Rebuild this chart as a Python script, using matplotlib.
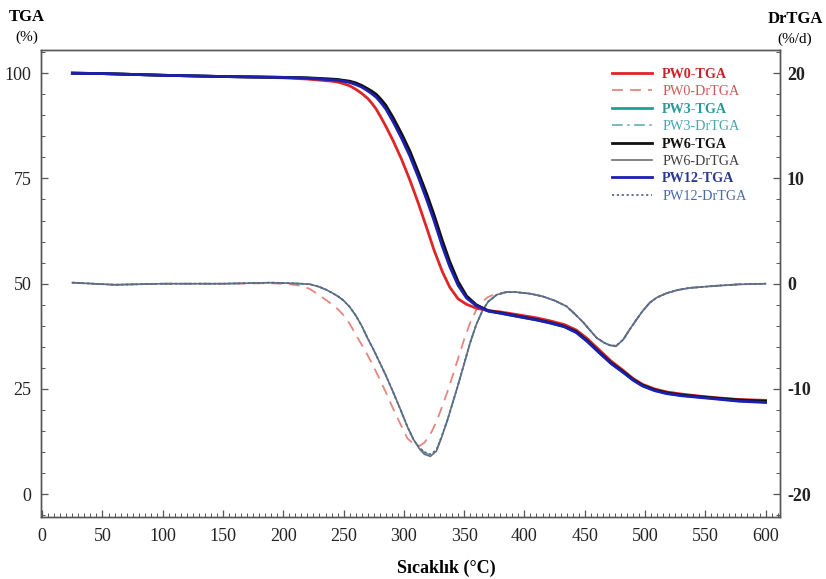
import numpy as np
import matplotlib
matplotlib.use("Agg")
import matplotlib.pyplot as plt
from matplotlib.ticker import MultipleLocator

plt.rcParams['font.family'] = ['Liberation Serif', 'DejaVu Serif']
plt.rcParams['axes.unicode_minus'] = False

# ---------------- data ----------------
T_tga = [25, 50, 100, 150, 200, 220, 240, 245, 250, 255, 260, 265, 270, 273, 277, 281, 285,
         291, 298, 305, 312, 319, 325, 332, 338, 345, 352, 360, 370, 380, 393, 410, 421, 433,
         443, 452, 462, 472, 482, 490, 498, 508, 518, 530, 545, 560, 578, 600]

tga_pw0 = [100, 99.9, 99.5, 99.2, 98.9, 98.6, 98.1, 97.9, 97.5, 97.0, 96.2, 95.2, 94.0, 93.0,
           91.5, 89.5, 87.4, 84.0, 79.6, 74.6, 69.1, 63.2, 58.0, 52.8, 49.2, 46.4, 45.1, 44.2,
           43.6, 43.3, 42.7, 41.9, 41.2, 40.3, 39.0, 37.0, 34.3, 31.6, 29.4, 27.5, 26.1, 25.0,
           24.3, 23.8, 23.3, 22.9, 22.5, 22.3]
tga_pw3 = [100, 99.9, 99.5, 99.2, 99.0, 98.8, 98.5, 98.4, 98.2, 97.9, 97.5, 96.9, 96.1, 95.5,
           94.7, 93.4, 92.0, 89.0, 85.1, 80.8, 75.9, 70.6, 65.7, 59.5, 54.7, 50.0, 46.8, 44.9,
           43.5, 43.0, 42.3, 41.4, 40.7, 39.8, 38.5, 36.4, 33.7, 31.1, 29.0, 27.2, 25.8, 24.7,
           24.0, 23.5, 23.1, 22.7, 22.2, 21.9]
tga_pw6 = [100, 99.9, 99.5, 99.2, 99.0, 98.9, 98.6, 98.5, 98.3, 98.1, 97.7, 97.1, 96.3, 95.8,
           95.0, 93.8, 92.4, 89.5, 85.7, 81.5, 76.5, 71.3, 66.4, 60.2, 55.3, 50.5, 47.1, 45.0,
           43.6, 43.1, 42.4, 41.5, 40.8, 39.9, 38.6, 36.5, 33.8, 31.2, 29.1, 27.3, 25.9, 24.8,
           24.1, 23.6, 23.2, 22.8, 22.4, 22.1]
tga_pw12 = [100, 99.9, 99.5, 99.2, 99.0, 98.8, 98.4, 98.3, 98.1, 97.8, 97.3, 96.7, 95.8, 95.2,
            94.3, 93.0, 91.5, 88.5, 84.6, 80.3, 75.3, 69.9, 65.0, 58.8, 54.1, 49.6, 46.6, 44.8,
            43.5, 43.0, 42.3, 41.4, 40.7, 39.8, 38.4, 36.3, 33.6, 31.0, 28.9, 27.1, 25.7, 24.6,
            23.9, 23.4, 23.0, 22.6, 22.1, 21.8]

T_dtg = [25, 60, 100, 150, 190, 205, 215, 222, 230, 236, 241, 246, 250, 255, 260, 265, 270,
         275, 280, 285, 290, 297, 303, 308, 313, 317, 322, 327, 331, 336, 340, 345, 350, 355,
         360, 365, 370, 377, 385, 393, 405, 415, 425, 435, 442, 449, 455, 460, 466, 471, 476,
         482, 487, 493, 498, 504, 510, 518, 527, 537, 548, 559, 578, 600]

dtg_pw0 = [0.1, -0.1, 0.0, 0.0, 0.05, -0.05, -0.2, -0.5, -1.1, -1.6,
           -2.0, -2.5, -3.0, -3.8, -4.8, -5.8, -6.8, -7.9, -9.1, -10.3,
           -11.6, -13.3, -14.7, -15.2, -15.4, -15.1, -14.3, -13.1, -11.9, -10.3,
           -8.9, -7.1, -5.3, -3.7, -2.5, -1.7, -1.25, -0.95, -0.8, -0.8,
           -0.95, -1.2, -1.6, -2.15, -2.9, -3.7, -4.5, -5.15, -5.6, -5.85,
           -5.9, -5.3, -4.4, -3.4, -2.6, -1.8, -1.3, -0.9, -0.6, -0.4,
           -0.3, -0.2, -0.06, 0.0]
dtg_pw3 = [0.1, -0.1, 0.0, 0.0, 0.1, 0.05, 0.0, -0.05, -0.3, -0.6,
           -0.9, -1.25, -1.6, -2.2, -3.0, -4.0, -5.2, -6.3, -7.5, -8.7,
           -10.0, -11.9, -13.6, -14.8, -15.6, -16.0, -16.3, -15.8, -14.6, -13.0,
           -11.5, -9.6, -7.6, -5.6, -3.9, -2.6, -1.7, -1.05, -0.8, -0.8,
           -0.95, -1.2, -1.6, -2.15, -2.9, -3.7, -4.5, -5.15, -5.6, -5.85,
           -5.9, -5.3, -4.4, -3.4, -2.6, -1.8, -1.3, -0.9, -0.6, -0.4,
           -0.3, -0.2, -0.06, 0.0]
dtg_pw6 = [0.1, -0.1, 0.0, 0.0, 0.1, 0.05, 0.0, -0.05, -0.3, -0.6,
           -0.9, -1.25, -1.6, -2.2, -3.0, -4.0, -5.2, -6.3, -7.5, -8.7,
           -10.0, -11.9, -13.6, -14.8, -15.7, -16.2, -16.4, -15.9, -14.7, -13.0,
           -11.5, -9.6, -7.6, -5.6, -3.9, -2.6, -1.7, -1.05, -0.8, -0.8,
           -0.95, -1.2, -1.6, -2.15, -2.9, -3.7, -4.5, -5.15, -5.6, -5.85,
           -5.95, -5.3, -4.4, -3.4, -2.6, -1.8, -1.3, -0.9, -0.6, -0.4,
           -0.3, -0.2, -0.06, 0.0]
dtg_pw12 = [0.1, -0.1, 0.0, 0.0, 0.1, 0.05, 0.0, -0.05, -0.3, -0.6,
            -0.9, -1.25, -1.6, -2.2, -3.0, -4.0, -5.2, -6.3, -7.5, -8.7,
            -10.0, -11.9, -13.6, -14.8, -15.6, -16.0, -16.2, -15.8, -14.6, -13.0,
            -11.5, -9.6, -7.6, -5.6, -3.9, -2.6, -1.7, -1.05, -0.8, -0.8,
            -0.95, -1.2, -1.6, -2.15, -2.9, -3.7, -4.5, -5.15, -5.6, -5.85,
            -5.9, -5.3, -4.4, -3.4, -2.6, -1.8, -1.3, -0.9, -0.6, -0.4,
            -0.3, -0.2, -0.06, 0.0]

x_ticks = [0, 50, 100, 150, 200, 250, 300, 350, 400, 450, 500, 550, 600]
tga_ticks = [0, 25, 50, 75, 100]
dtg_ticks = [-20, -10, 0, 10, 20]

# ---------------- figure ----------------
fig = plt.figure(figsize=(8.26, 5.79), dpi=100)
ax = fig.add_axes([41/826, 1-517/579, (780-41)/826, (517-50)/579])
ax2 = ax.twinx()

spine_c = '#555555'
h_dtg0, = ax2.plot(T_dtg, dtg_pw0, color='#e5867f', lw=1.3, ls=(0, (6, 4)), label='PW0-DrTGA')
h_dtg3, = ax2.plot(T_dtg, dtg_pw3, color='#4fa9b3', lw=1.1, ls=(0, (7, 3, 1.5, 3)), label='PW3-DrTGA')
h_dtg6, = ax2.plot(T_dtg, dtg_pw6, color='#6a6f75', lw=1.2, ls='-', label='PW6-DrTGA')
h_dtg12, = ax2.plot(T_dtg, dtg_pw12, color='#4f6c9c', lw=1.3, ls=(0, (1.2, 1.5)), label='PW12-DrTGA')

h_tga0, = ax.plot(T_tga, tga_pw0, color='#de2626', lw=2.0, label='PW0-TGA')
h_tga3, = ax.plot(T_tga, tga_pw3, color='#1fa095', lw=2.0, label='PW3-TGA')
h_tga6, = ax.plot(T_tga, tga_pw6, color='#111111', lw=2.0, label='PW6-TGA')
h_tga12, = ax.plot(T_tga, tga_pw12, color='#1c1fb0', lw=2.0, label='PW12-TGA')

ax.set_zorder(ax2.get_zorder() + 1)
ax.patch.set_visible(False)

xmin, xmax = -1, 612
ax.set_xlim(xmin, xmax)
ylo, yhi = -5.4, 105.5
ax.set_ylim(ylo, yhi)
ax2.set_ylim(ylo * 0.4 - 20, yhi * 0.4 - 20)

ax.set_xticks(x_ticks)
ax.set_yticks(tga_ticks)
ax2.set_yticks(dtg_ticks)
ax.xaxis.set_minor_locator(MultipleLocator(5))
ax.yaxis.set_minor_locator(MultipleLocator(5))
ax2.yaxis.set_minor_locator(MultipleLocator(2))

for a in (ax, ax2):
    for s in a.spines.values():
        s.set_color(spine_c)
        s.set_linewidth(1.0)
ax.tick_params(axis='both', which='major', direction='in', length=5, width=0.9,
               color=spine_c, labelsize=13, labelcolor='#222222')
ax.tick_params(axis='both', which='minor', direction='in', length=3, width=0.7, color=spine_c)
ax.tick_params(axis='y', pad=7)
ax.tick_params(axis='x', pad=8)
ax2.tick_params(axis='y', which='major', direction='in', length=5, width=0.9,
                color=spine_c, labelsize=13, labelcolor='#222222', pad=5)
ax2.tick_params(axis='y', which='minor', direction='in', length=3, width=0.7, color=spine_c)
for lab in ax2.get_yticklabels():
    lab.set_fontweight('bold')

# axis titles
fig.text(27/826, 1-17/579, 'TGA', ha='center', va='center', fontsize=12, fontweight='bold')
fig.text(27/826, 1-37/579, '(%)', ha='center', va='center', fontsize=11)
fig.text(795/826, 1-19/579, 'DrTGA', ha='center', va='center', fontsize=12, fontweight='bold')
fig.text(795/826, 1-39/579, '(%/d)', ha='center', va='center', fontsize=11)
fig.text(446/826, 1-568/579, 'Sıcaklık (°C)', ha='center', va='center', fontsize=13, fontweight='bold')

# legend
handles = [h_tga0, h_dtg0, h_tga3, h_dtg3, h_tga6, h_dtg6, h_tga12, h_dtg12]
text_colors = ['#c8232a', '#d05a55', '#2a9a96', '#4aa6ae', '#111111', '#404040', '#2a3a8a', '#4a6aa8']
leg = fig.legend(handles, [h.get_label() for h in handles], loc='upper left',
                 bbox_to_anchor=(612/826, 1-68/579), frameon=False, fontsize=10.2,
                 handlelength=2.8, handletextpad=0.75, labelspacing=0.31,
                 borderpad=0, borderaxespad=0)
for txt, c, h in zip(leg.get_texts(), text_colors, handles):
    txt.set_color(c)
    if h.get_label().endswith('-TGA'):
        txt.set_fontweight('bold')

fig.savefig('out.png', dpi=100)
